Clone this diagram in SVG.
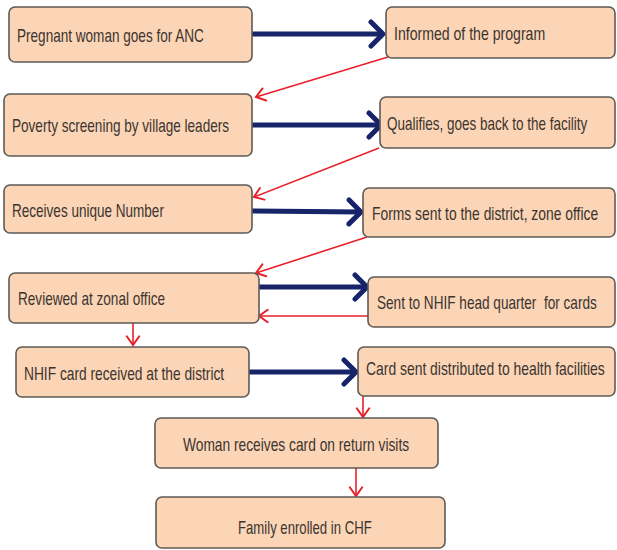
<svg xmlns="http://www.w3.org/2000/svg" width="617" height="550" viewBox="0 0 617 550">
<defs>
<style>
.box{fill:#fbd5b5;stroke:#5e5a56;stroke-width:1.6}
.t{font-family:"Liberation Sans",Arial,sans-serif;font-size:19px;fill:#3b3430}
.blue{stroke:#17246a;stroke-width:5;fill:none}
.red{stroke:#e8202a;stroke-width:1.6;fill:none}
</style>
<marker id="bh" markerUnits="userSpaceOnUse" markerWidth="30" markerHeight="30" viewBox="-16 -15 20 30" refX="0" refY="0" orient="auto">
<path d="M-12,-12 L0,0 L-12,12" fill="none" stroke="#17246a" stroke-width="5" stroke-linejoin="round" stroke-linecap="round"/>
</marker>
<marker id="rh" markerUnits="userSpaceOnUse" markerWidth="20" markerHeight="20" viewBox="-10 -8 12 16" refX="0" refY="0" orient="auto">
<path d="M-7,-5 L0,0 L-7,5" fill="none" stroke="#e8202a" stroke-width="1.6" stroke-linecap="round"/>
</marker>
</defs>
<rect width="617" height="550" fill="#ffffff"/>
<g id="connectors">
<line class="blue" x1="252" y1="34" x2="383" y2="34" marker-end="url(#bh)"/>
<line class="blue" x1="252" y1="125" x2="381" y2="125" marker-end="url(#bh)"/>
<line class="blue" x1="252" y1="211" x2="361" y2="212" marker-end="url(#bh)"/>
<line class="blue" x1="259" y1="287" x2="367" y2="287" marker-end="url(#bh)"/>
<line class="blue" x1="249" y1="372" x2="356" y2="372" marker-end="url(#bh)"/>
<line class="red" x1="388" y1="57" x2="256" y2="97" marker-end="url(#rh)"/>
<line class="red" x1="379" y1="148" x2="254" y2="197" marker-end="url(#rh)"/>
<line class="red" x1="367" y1="237" x2="256" y2="273" marker-end="url(#rh)"/>
<line class="red" x1="368" y1="316" x2="259" y2="316" marker-end="url(#rh)"/>
<line class="red" x1="133" y1="323" x2="133" y2="345" marker-end="url(#rh)"/>
<line class="red" x1="363" y1="396" x2="363" y2="417" marker-end="url(#rh)"/>
<line class="red" x1="356" y1="468" x2="356" y2="496" marker-end="url(#rh)"/>
</g>
<g id="n1"><rect class="box" x="9" y="7" width="243" height="55" rx="6"/><text class="t" transform="translate(17,42) scale(0.7,1)" textLength="267" lengthAdjust="spacingAndGlyphs">Pregnant woman goes for ANC</text></g>
<g id="n2"><rect class="box" x="386" y="7" width="229" height="51" rx="6"/><text class="t" transform="translate(394,40) scale(0.7,1)" textLength="216" lengthAdjust="spacingAndGlyphs">Informed of the program</text></g>
<g id="n3"><rect class="box" x="4" y="94" width="248" height="62" rx="6"/><text class="t" transform="translate(12,132) scale(0.7,1)" textLength="310" lengthAdjust="spacingAndGlyphs">Poverty screening by village leaders</text></g>
<g id="n4"><rect class="box" x="380" y="97" width="235" height="51" rx="6"/><text class="t" transform="translate(387,130) scale(0.7,1)" textLength="286" lengthAdjust="spacingAndGlyphs">Qualifies, goes back to the facility</text></g>
<g id="n5"><rect class="box" x="4" y="185" width="248" height="48" rx="6"/><text class="t" transform="translate(12,217) scale(0.7,1)" textLength="217" lengthAdjust="spacingAndGlyphs">Receives unique Number</text></g>
<g id="n6"><rect class="box" x="363" y="188" width="252" height="49" rx="6"/><text class="t" transform="translate(372,220) scale(0.7,1)" textLength="323" lengthAdjust="spacingAndGlyphs">Forms sent to the district, zone office</text></g>
<g id="n7"><rect class="box" x="9" y="273" width="250" height="50" rx="6"/><text class="t" transform="translate(18,305) scale(0.7,1)" textLength="210" lengthAdjust="spacingAndGlyphs">Reviewed at zonal office</text></g>
<g id="n8"><rect class="box" x="368" y="277" width="247" height="50" rx="6"/><text class="t" transform="translate(377,309) scale(0.7,1)" textLength="314" lengthAdjust="spacingAndGlyphs" xml:space="preserve">Sent to NHIF head quarter  for cards</text></g>
<g id="n9"><rect class="box" x="16" y="347" width="233" height="50" rx="6"/><text class="t" transform="translate(24,380) scale(0.7,1)" textLength="286" lengthAdjust="spacingAndGlyphs">NHIF card received at the district</text></g>
<g id="n10"><rect class="box" x="358" y="347" width="257" height="49" rx="6"/><text class="t" transform="translate(366,375) scale(0.7,1)" textLength="341" lengthAdjust="spacingAndGlyphs">Card sent distributed to health facilities</text></g>
<g id="n11"><rect class="box" x="155" y="418" width="283" height="50" rx="6"/><text class="t" transform="translate(183,451) scale(0.7,1)" textLength="323" lengthAdjust="spacingAndGlyphs">Woman receives card on return visits</text></g>
<g id="n12"><rect class="box" x="156" y="497" width="289" height="51" rx="6"/><text class="t" transform="translate(238,534) scale(0.7,1)" textLength="191" lengthAdjust="spacingAndGlyphs">Family enrolled in CHF</text></g>
</svg>
